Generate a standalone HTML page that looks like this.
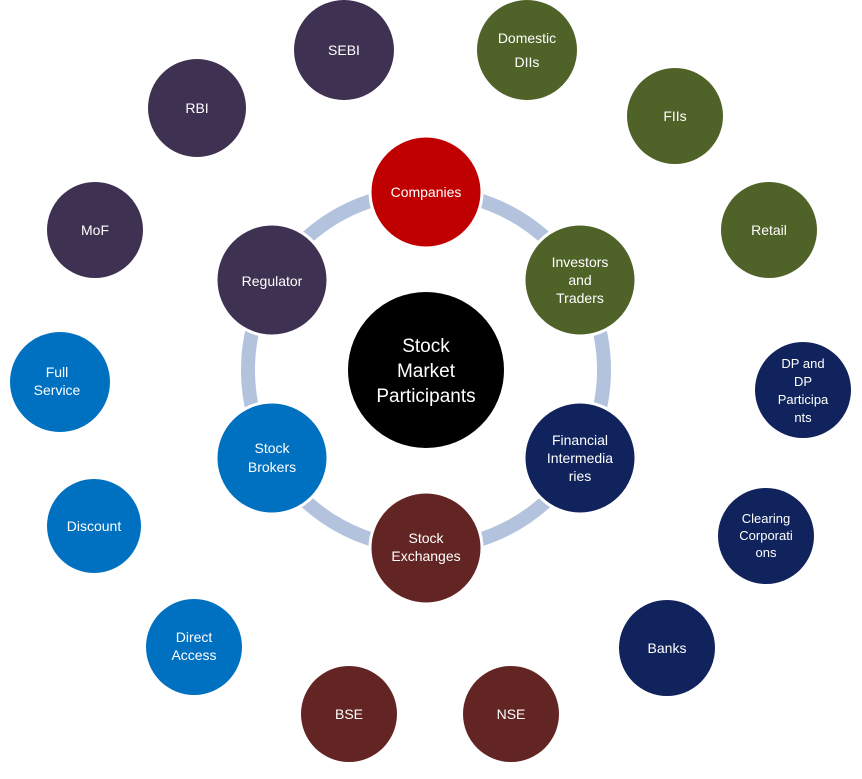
<!DOCTYPE html>
<html><head><meta charset="utf-8"><style>
html,body{margin:0;padding:0;background:#fff;}
svg text{font-family:"Liberation Sans",sans-serif;fill:#fff;text-anchor:middle;}
</style></head><body>
<svg width="862" height="774" viewBox="0 0 862 774" xmlns="http://www.w3.org/2000/svg">
<circle cx="426" cy="370" r="178" fill="none" stroke="#b3c3de" stroke-width="14"/>
<circle cx="426" cy="370" r="78" fill="#000"/>
<text x="426" y="352" font-size="19">Stock</text>
<text x="426" y="377" font-size="19">Market</text>
<text x="426" y="402" font-size="19">Participants</text>

<g font-size="14">
<g stroke="#fff" stroke-width="3">
<circle cx="426" cy="192" r="56" fill="#c00000"/>
<circle cx="580" cy="280" r="56" fill="#4f6228"/>
<circle cx="580" cy="458" r="56" fill="#10235c"/>
<circle cx="426" cy="548" r="56" fill="#632523"/>
<circle cx="272" cy="458" r="56" fill="#0070c0"/>
<circle cx="272" cy="280" r="56" fill="#3f3151"/>
</g>
<text x="426" y="197">Companies</text>
<text x="580" y="267">Investors</text><text x="580" y="285">and</text><text x="580" y="303">Traders</text>
<text x="580" y="445">Financial</text><text x="580" y="463">Intermedia</text><text x="580" y="481">ries</text>
<text x="426" y="543">Stock</text><text x="426" y="561">Exchanges</text>
<text x="272" y="453">Stock</text><text x="272" y="472">Brokers</text>
<text x="272" y="286">Regulator</text>

<circle cx="344" cy="50" r="50" fill="#3f3151"/><text x="344" y="55">SEBI</text>
<circle cx="197" cy="108" r="49" fill="#3f3151"/><text x="197" y="113">RBI</text>
<circle cx="95" cy="230" r="48" fill="#3f3151"/><text x="95" y="235">MoF</text>

<circle cx="527" cy="50" r="50" fill="#4f6228"/><text x="527" y="43">Domestic</text><text x="527" y="67">DIIs</text>
<circle cx="675" cy="116" r="48" fill="#4f6228"/><text x="675" y="121">FIIs</text>
<circle cx="769" cy="230" r="48" fill="#4f6228"/><text x="769" y="235">Retail</text>

<circle cx="803" cy="390" r="48" fill="#10235c"/><text x="803" y="368" font-size="13">DP and</text><text x="803" y="386" font-size="13">DP</text><text x="803" y="404" font-size="13">Participa</text><text x="803" y="422" font-size="13">nts</text>
<circle cx="766" cy="536" r="48" fill="#10235c"/><text x="766" y="523" font-size="13">Clearing</text><text x="766" y="540" font-size="13">Corporati</text><text x="766" y="557" font-size="13">ons</text>
<circle cx="667" cy="648" r="48" fill="#10235c"/><text x="667" y="653">Banks</text>

<circle cx="511" cy="714" r="48" fill="#632523"/><text x="511" y="719">NSE</text>
<circle cx="349" cy="714" r="48" fill="#632523"/><text x="349" y="719">BSE</text>

<circle cx="194" cy="647" r="48" fill="#0070c0"/><text x="194" y="642">Direct</text><text x="194" y="660">Access</text>
<circle cx="94" cy="526" r="47" fill="#0070c0"/><text x="94" y="531">Discount</text>
<circle cx="60" cy="382" r="50" fill="#0070c0"/><text x="57" y="377">Full</text><text x="57" y="395">Service</text>
</g>
</svg>
</body></html>
